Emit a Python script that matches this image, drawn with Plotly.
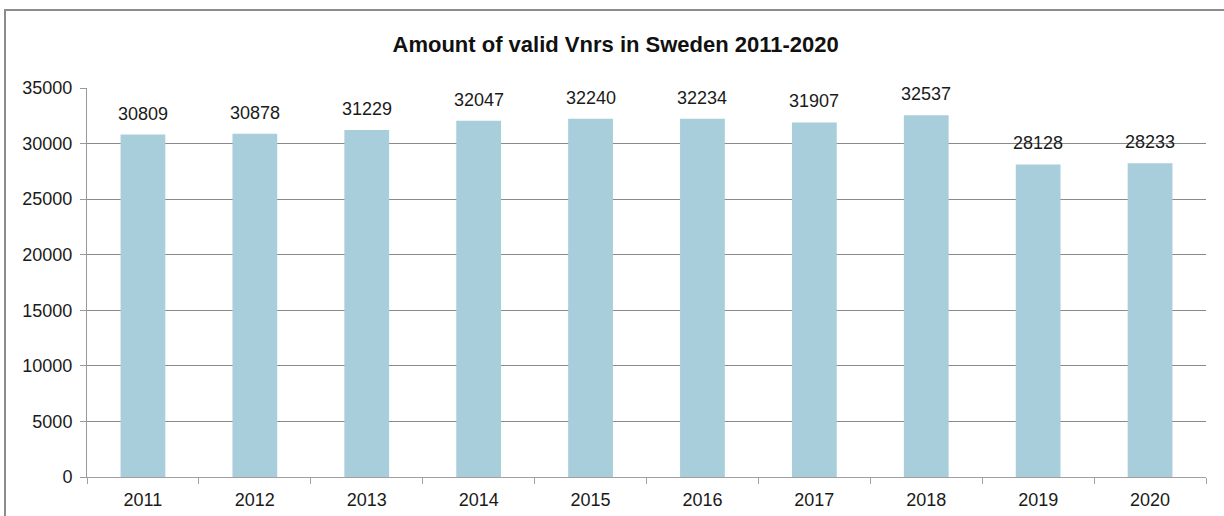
import plotly.graph_objects as go

years = ["2011", "2012", "2013", "2014", "2015", "2016", "2017", "2018", "2019", "2020"]
counts = [30809, 30878, 31229, 32047, 32240, 32234, 31907, 32537, 28128, 28233]
y_ticks = [0, 5000, 10000, 15000, 20000, 25000, 30000, 35000]

W, H = 1224, 516
ML, MR, MT, MB = 87, 18, 88, 39
pw, ph = W - ML - MR, H - MT - MB

def px_x(p):
    return (p - ML) / pw

def px_y(p):
    return (H - MB - p) / ph

FONT = "Liberation Sans, Arial, sans-serif"
GRID = "#8a8a8a"

fig = go.Figure()
fig.add_trace(go.Bar(
    x=years, y=counts,
    marker=dict(color="#a8cddb", line=dict(width=0)),
    width=0.4,
    hoverinfo="x+y",
))

for i, v in enumerate(counts):
    fig.add_annotation(
        x=i, y=v, text=str(v), showarrow=False,
        yanchor="bottom", yshift=9,
        font=dict(family=FONT, size=18, color="#1a1a1a"),
    )

fig.add_shape(
    type="rect", xref="paper", yref="paper",
    x0=px_x(5), x1=px_x(W + 20), y0=px_y(H + 20), y1=px_y(10),
    line=dict(color="#8c8c8c", width=2), fillcolor="rgba(0,0,0,0)", layer="below",
)

fig.update_layout(
    width=W, height=H,
    margin=dict(l=ML, r=MR, t=MT, b=MB, pad=0, autoexpand=False),
    paper_bgcolor="white", plot_bgcolor="white",
    showlegend=False,
    bargap=0.6,
    title=dict(
        text="<b>Amount of valid Vnrs in Sweden 2011-2020</b>",
        x=0.503, xref="container", xanchor="center",
        y=(H - 44) / H, yref="container", yanchor="middle",
        font=dict(family=FONT, size=22, color="#111111"),
    ),
    font=dict(family=FONT, size=18, color="#1a1a1a"),
)

fig.update_yaxes(
    range=[0, 35000], tickvals=y_ticks, ticktext=[str(t) for t in y_ticks],
    showgrid=True, gridcolor=GRID, gridwidth=1,
    showline=True, linecolor="#999999", linewidth=1,
    ticks="outside", ticklen=6, tickcolor="#999999",
    zeroline=False, ticklabelstandoff=4, automargin=False,
    tickfont=dict(family=FONT, size=18, color="#1a1a1a"),
)
fig.update_xaxes(
    type="category", categoryorder="array", categoryarray=years,
    range=[-0.5, len(years) - 0.5],
    showgrid=False, showline=True, linecolor="#a0a0a0", linewidth=1,
    ticks="outside", tickson="boundaries", ticklen=6, tickcolor="#a0a0a0",
    tickangle=0, automargin=False, ticklabelstandoff=6,
    tickfont=dict(family=FONT, size=18, color="#1a1a1a"),
)

fig.write_html(
    "out.html",
    config={"displayModeBar": False},
    post_script="document.body.style.margin='0';document.body.style.overflow='hidden';",
)
